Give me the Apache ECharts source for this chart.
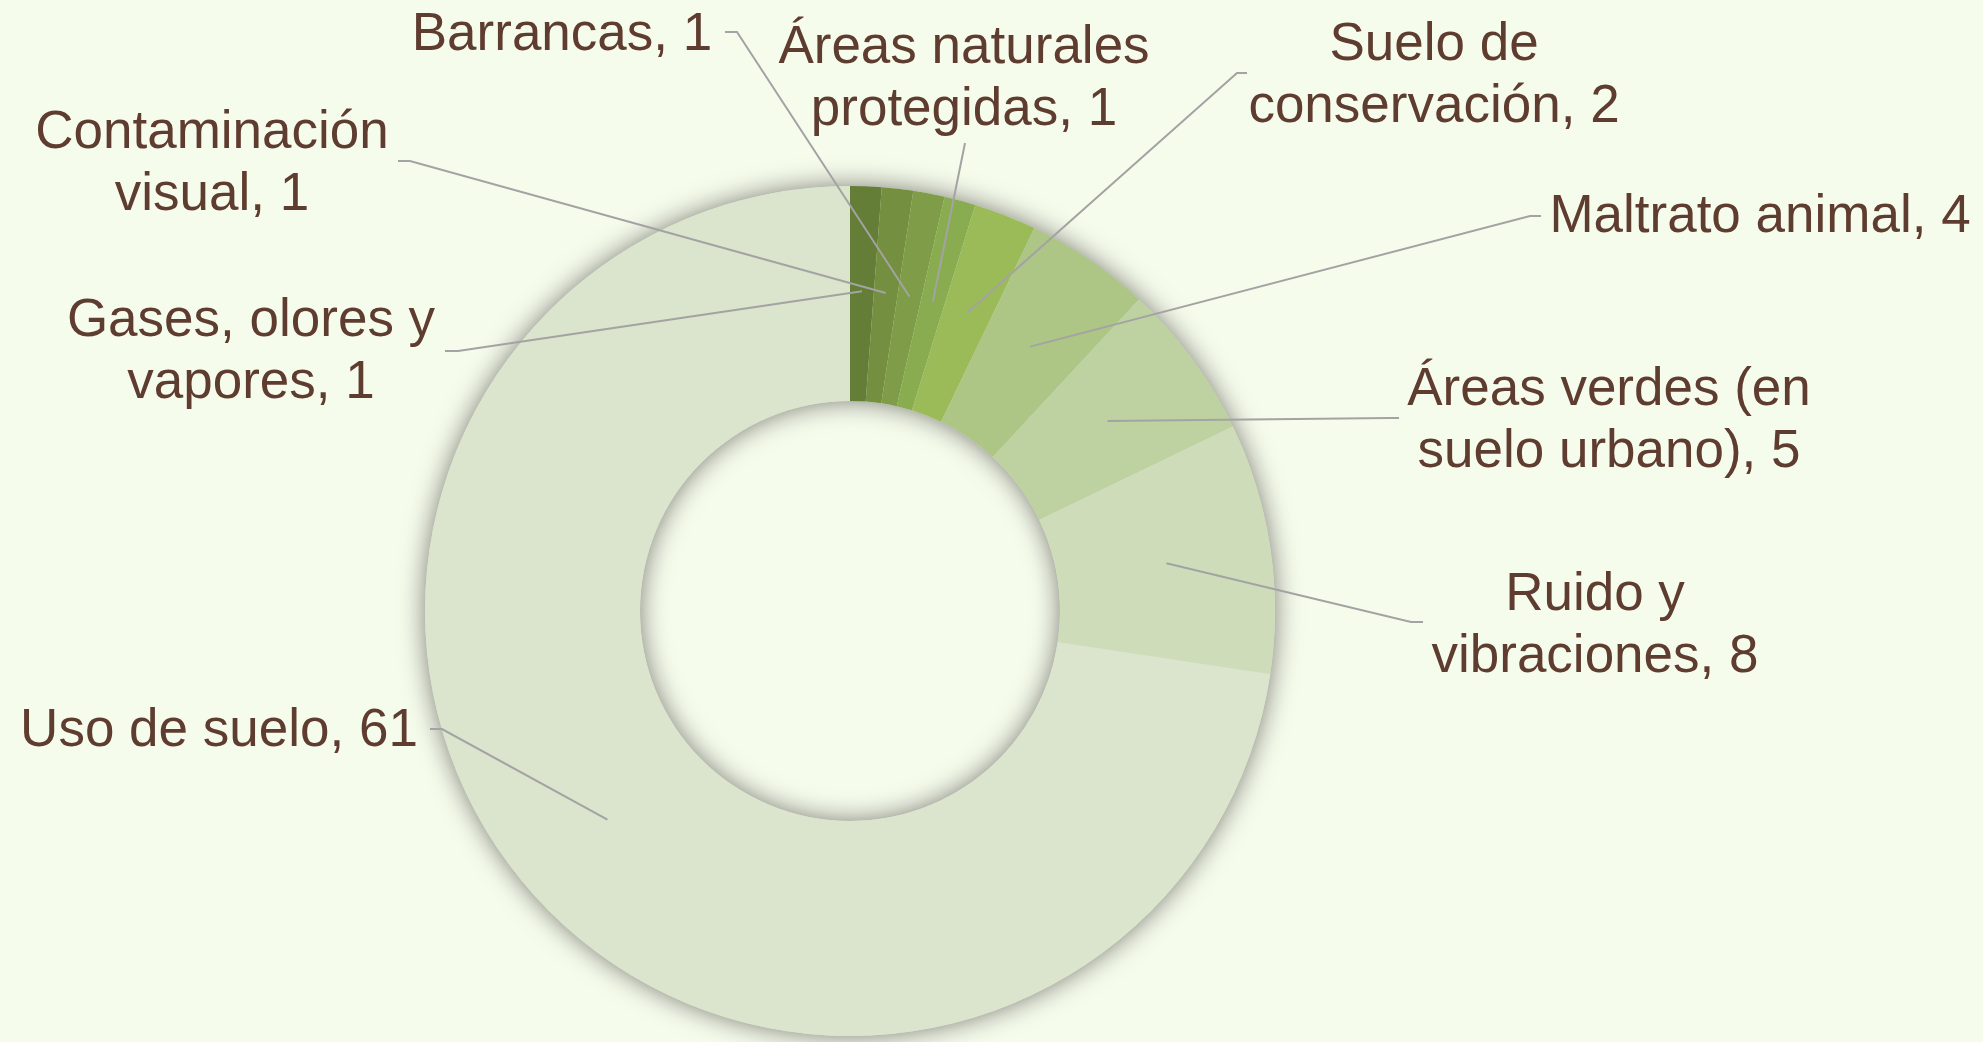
<!DOCTYPE html>
<html>
<head>
<meta charset="utf-8">
<script src="https://cdn.jsdelivr.net/npm/echarts@6/dist/echarts.min.js"></script>
<style>
  html, body { margin: 0; padding: 0; background: #f6fcec; }
  #chart { width: 1983px; height: 1042px; }
</style>
</head>
<body>
<div id="chart"></div>
<script>
// categorías en el orden del anillo (sentido horario desde arriba)
const categories = [
  'Gases, olores y\nvapores',
  'Contaminación\nvisual',
  'Barrancas',
  'Áreas naturales\nprotegidas',
  'Suelo de\nconservación',
  'Maltrato animal',
  'Áreas verdes (en\nsuelo urbano)',
  'Ruido y\nvibraciones',
  'Uso de suelo'
];
const values = [1, 1, 1, 1, 2, 4, 5, 8, 61];
const colors = ['#647d37', '#758f40', '#7f9d48', '#89ac51', '#9bbb59', '#adc585', '#bed2a1', '#cedcb9', '#dbe4cc'];

// posición de cada etiqueta (centro del bloque de texto) y del remate de la línea guía
const labelCenter = [[251, 352], [212, 164], [562, 35], [964, 79], [1434, 76], [1760, 217], [1609, 421], [1595, 626], [219, 731]];
const lineElbow = [[458, 351], [410, 161], [737, 32], [965, 143], [1237, 73], [1530, 216], [1390, 418], [1411, 622], [442, 729]];
const lineEnd = [[445, 351], [398, 161], [725, 32], [965, 143], [1247, 73], [1541, 216], [1399, 418], [1423, 622], [430, 729]];

const center = [850, 611];
const radius = [210, 425];
const anchorR = 320;
const startAngle = 90;

// punto de la línea guía dentro del anillo, a mitad del ángulo de cada sector
const total = values.reduce((a, b) => a + b, 0);
let acc = 0;
const anchors = values.map(v => {
  const mid = (acc + v / 2) / total * 2 * Math.PI;
  acc += v;
  const a = startAngle * Math.PI / 180 - mid;
  return [center[0] + anchorR * Math.cos(a), center[1] - anchorR * Math.sin(a)];
});

const chart = echarts.init(document.getElementById('chart'));

const option = {
  backgroundColor: '#f6fcec',
  animation: false,
  graphic: anchors.map((p, i) => ({
    type: 'polyline',
    z: 100,
    silent: true,
    shape: { points: [p, lineElbow[i], lineEnd[i]] },
    style: { stroke: '#a3a3a3', lineWidth: 2, fill: null }
  })),
  series: [
    {
      // sombra del anillo
      type: 'pie',
      silent: true,
      z: 1,
      center: center,
      radius: radius,
      label: { show: false },
      labelLine: { show: false },
      itemStyle: {
        color: '#dbe4cc',
        shadowBlur: 26,
        shadowColor: 'rgba(0,0,0,0.5)'
      },
      data: [{ value: 1, name: '' }]
    },
    {
      type: 'pie',
      z: 2,
      center: center,
      radius: radius,
      startAngle: startAngle,
      clockwise: true,
      avoidLabelOverlap: false,
      data: categories.map((c, i) => ({
        name: c,
        value: values[i],
        itemStyle: { color: colors[i] }
      })),
      label: {
        show: true,
        position: 'outside',
        formatter: '{b}, {c}',
        color: '#5f3c30',
        fontFamily: 'Liberation Sans, Arial, sans-serif',
        fontSize: 53,
        lineHeight: 62,
        align: 'center'
      },
      labelLine: { show: false },
      labelLayout: function (params) {
        const i = params.dataIndex;
        return {
          x: labelCenter[i][0],
          y: labelCenter[i][1],
          align: 'center',
          verticalAlign: 'middle'
        };
      }
    }
  ]
};

chart.setOption(option);
</script>
</body>
</html>
